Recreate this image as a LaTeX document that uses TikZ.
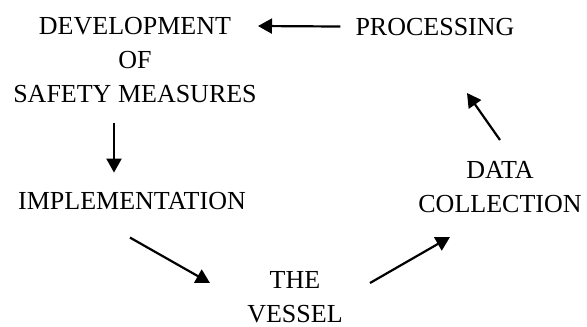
\documentclass[tikz,border=0pt]{standalone}
\usepackage{fontspec}
\setmainfont{Liberation Serif}
\usetikzlibrary{arrows.meta}
\tikzset{
  lbl/.style={inner sep=0pt, align=center, font=\fontsize{26}{34}\selectfont},
  arr/.style={line width=2.2pt, -{Triangle[length=14pt,width=15pt]}}
}
\begin{document}
\begin{tikzpicture}[x=1pt,y=-1pt]
\useasboundingbox (0,0) rectangle (587,327);
\node[lbl, anchor=north] (dev) at (135,17) {DEVELOPMENT\\OF\\SAFETY MEASURES};
\node[lbl, anchor=base] (proc) at (435,35) {PROCESSING};
\node[lbl, anchor=base] (impl) at (132,209) {IMPLEMENTATION};
\node[lbl, anchor=north] (data) at (500,161) {DATA\\COLLECTION};
\node[lbl, anchor=north] (vessel) at (295,271) {THE\\VESSEL};
\draw[arr] ([shift={(-15,0)}]proc.west) -- ([shift={(123,9)}]dev.north);
\draw[arr] ([shift={(-21,106)}]dev.north) -- ([shift={(-18,-19)}]impl.north);
\draw[arr] ([shift={(-2,46)}]impl.north) -- ([shift={(-85,12)}]vessel.north);
\draw[arr] ([shift={(75,12)}]vessel.north) -- ([shift={(-50,76)}]data.north);
\draw[arr] ([shift={(0,-21)}]data.north) -- ([shift={(32,58)}]proc.base);
\end{tikzpicture}
\end{document}
